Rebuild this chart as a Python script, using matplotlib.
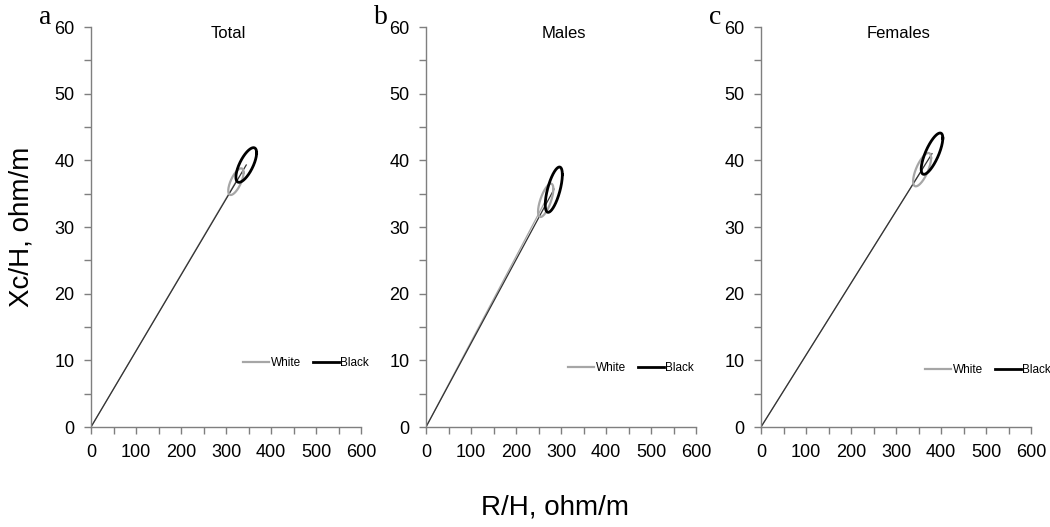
import numpy as np
import matplotlib.pyplot as plt
from matplotlib.ticker import MultipleLocator

plt.rcParams['font.family'] = ['Liberation Sans', 'DejaVu Sans']

panel_letters = ['a', 'b', 'c']
panel_titles = ['Total', 'Males', 'Females']
group_names = ['White', 'Black']

# mean vector end points (R/H, Xc/H) and ellipse spread per panel
white_cx = [322, 266, 358]
white_cy = [36.8, 34.0, 38.6]
white_sx = [17, 17, 20]
white_sy = [2.0, 2.5, 2.5]
white_rho = [0.68, 0.68, 0.7]

black_cx = [345, 284, 380]
black_cy = [39.3, 35.6, 41.0]
black_sx = [23, 19, 24]
black_sy = [2.6, 3.4, 3.1]
black_rho = [0.7, 0.66, 0.75]

W, H = 1050, 527
GRAY = '#a6a6a6'
AXCOL = '#7f7f7f'


def ellipse_xy(cx, cy, sx, sy, rho):
    t = np.linspace(0, 2 * np.pi, 300)
    x = cx + sx * np.cos(t)
    y = cy + sy * (rho * np.cos(t) + np.sqrt(1 - rho ** 2) * np.sin(t))
    return x, y


fig = plt.figure(figsize=(W / 100, H / 100), dpi=100)

ax_left = [91, 426, 761]
leg_pos = [(243, 363), (568, 368), (925, 370)]

for i in range(3):
    ax = fig.add_axes([ax_left[i] / W, 100 / H, 270 / W, 400 / H])

    # mean vectors from origin
    ax.plot([0, white_cx[i]], [0, white_cy[i]], color=GRAY, lw=0.9)
    ax.plot([0, black_cx[i]], [0, black_cy[i]], color='#333333', lw=0.9)

    x, y = ellipse_xy(white_cx[i], white_cy[i], white_sx[i], white_sy[i], white_rho[i])
    ax.plot(x, y, color=GRAY, lw=1.6, label=group_names[0])
    x, y = ellipse_xy(black_cx[i], black_cy[i], black_sx[i], black_sy[i], black_rho[i])
    ax.plot(x, y, color='black', lw=2.0, label=group_names[1])

    ax.set_xlim(0, 600)
    ax.set_ylim(0, 60)
    ax.xaxis.set_major_locator(MultipleLocator(100))
    ax.xaxis.set_minor_locator(MultipleLocator(50))
    ax.yaxis.set_major_locator(MultipleLocator(10))
    ax.yaxis.set_minor_locator(MultipleLocator(5))
    for s in ['top', 'right']:
        ax.spines[s].set_visible(False)
    for s in ['left', 'bottom']:
        ax.spines[s].set_color(AXCOL)
        ax.spines[s].set_linewidth(1.0)
    ax.tick_params(which='both', direction='out', length=5, width=1, color=AXCOL,
                   labelsize=13, pad=7)

    ax.text(0.51, 0.985, panel_titles[i], transform=ax.transAxes,
            ha='center', va='center', fontsize=12)

    lx, ly = leg_pos[i]
    ax.legend(loc='center left', bbox_to_anchor=(lx / W, 1 - ly / H),
              bbox_transform=fig.transFigure, ncol=2, frameon=False,
              fontsize=8.5, handlelength=2.2, handletextpad=0.15,
              columnspacing=1.0, borderpad=0, borderaxespad=0)

    fig.text((ax_left[i] - 52) / W, 1 - 18 / H, panel_letters[i],
             family='Liberation Serif', fontsize=20, ha='left', va='center')

fig.text(22 / W, 1 - 227 / H, 'Xc/H, ohm/m', rotation=90, fontsize=20,
         ha='center', va='center')
fig.text(555 / W, 1 - 507 / H, 'R/H, ohm/m', fontsize=20,
         ha='center', va='center')

fig.savefig('out.png', dpi=100)
